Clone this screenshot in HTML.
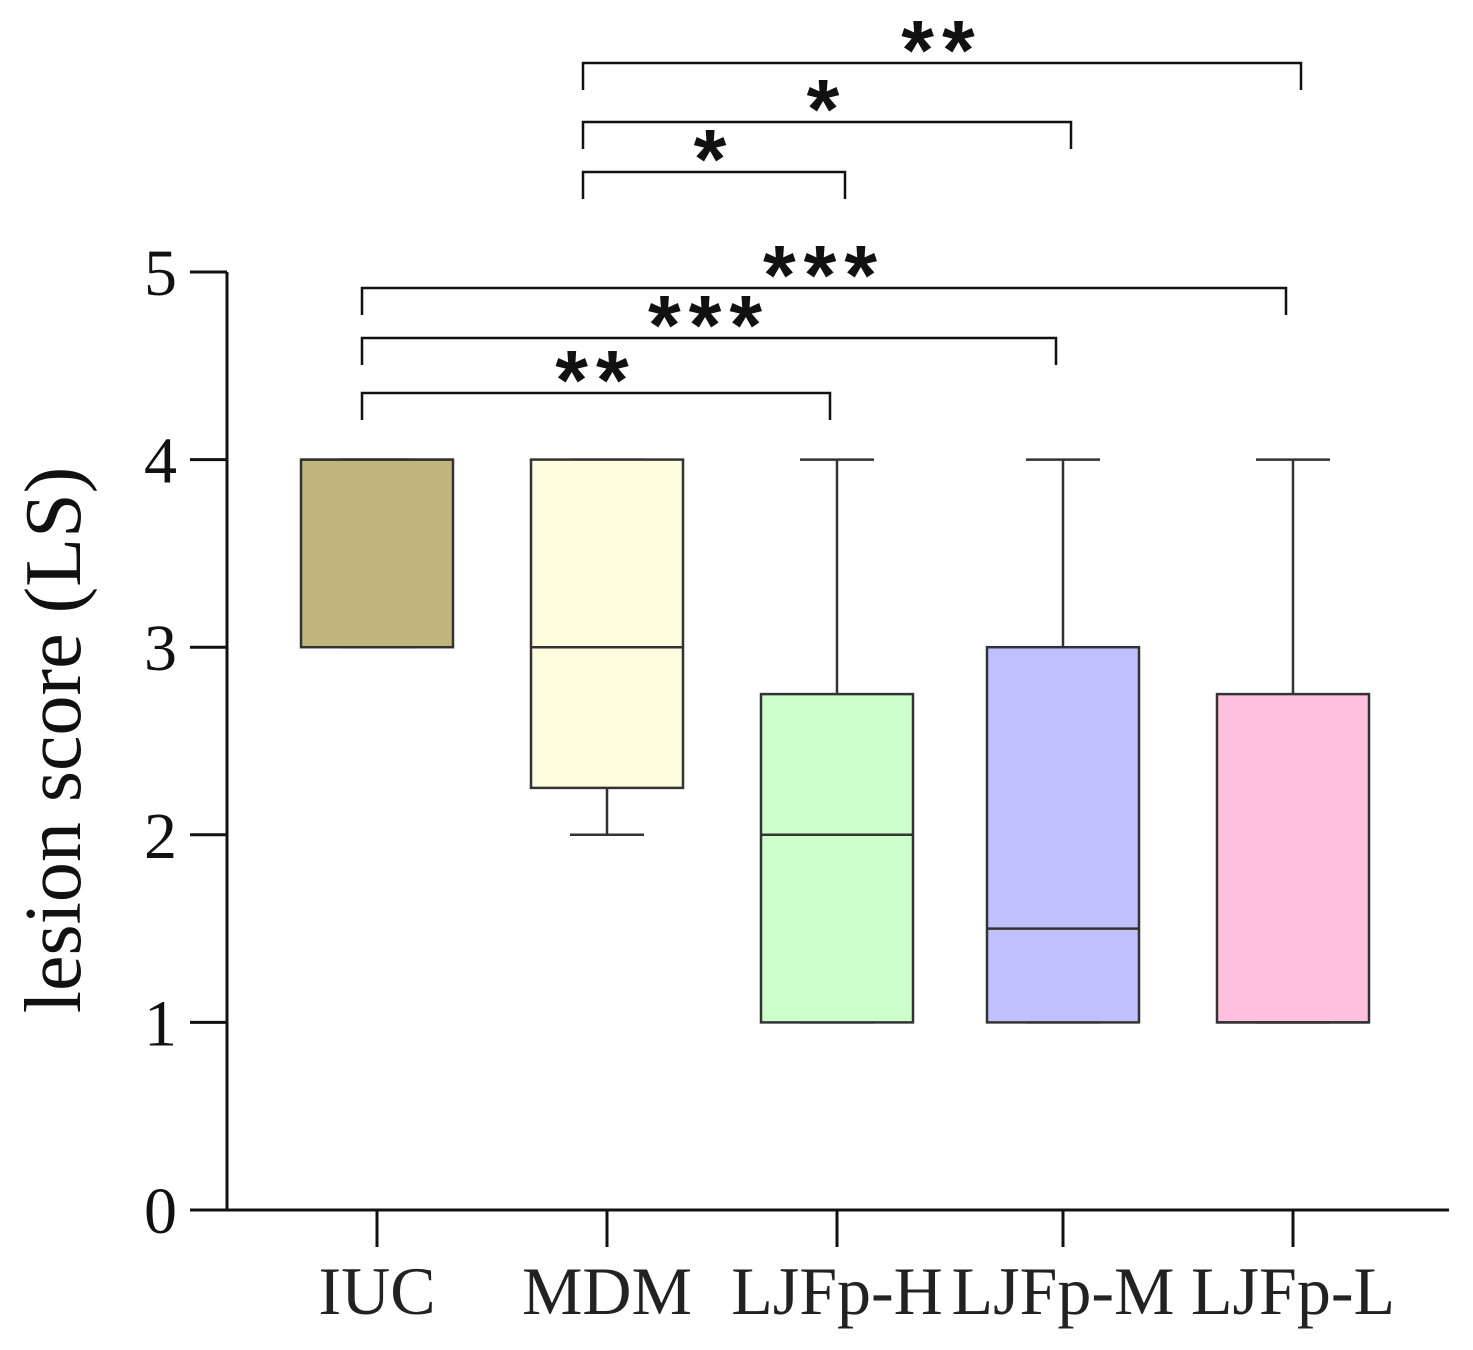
<!DOCTYPE html>
<html><head><meta charset="utf-8"><style>
html,body{margin:0;padding:0;background:#fff;}
svg{display:block;font-family:"Liberation Serif",serif;}
</style></head><body>
<svg id="chart" width="1473" height="1350" viewBox="0 0 1473 1350" xmlns="http://www.w3.org/2000/svg">
<text transform="translate(80,740) rotate(-90)" text-anchor="middle" font-size="80" fill="#111">lesion score (LS)</text>
</svg>
<script>
const categories=["IUC","MDM","LJFp-H","LJFp-M","LJFp-L"];
const mins=[3,2,1,1,1];
const q1s=[3,2.25,1,1,1];
const medians=[4,3,2,1.5,1];
const q3s=[4,4,2.75,3,2.75];
const maxs=[4,4,4,4,4];
const colors=["#c0b57d","#fffde0","#ccffcc","#c0c0ff","#ffc0e0"];
const yTicks=[0,1,2,3,4,5];
const bracketFrom=[0,0,0,1,1,1];
const bracketTo=[2,3,4,2,3,4];
const bracketLabels=["**","***","***","*","*","**"];
const bracketY=[393,338,288,172,122,63];

const svg=document.getElementById('chart');
const NS="http://www.w3.org/2000/svg";
const y0=1210,yTop=272,yMax=5;
const yS=v=>y0-(y0-yTop)*v/yMax;
const xC=[377,607,837,1063,1293];
const xS=i=>xC[i];
const bw=152;
function el(t,a){const e=document.createElementNS(NS,t);for(const k in a)e.setAttribute(k,a[k]);svg.appendChild(e);return e;}
let e;
e=el('line',{x1:227,y1:yTop,x2:227,y2:y0+1,stroke:'#111','stroke-width':3});


e=el('line',{x1:226,y1:y0,x2:1449,y2:y0,stroke:'#111','stroke-width':3});


yTicks.forEach(t=>{
  e=el('line',{x1:190,y1:yS(t),x2:227,y2:yS(t),stroke:'#111','stroke-width':3});
  
  
  e=el('text',{x:177,y:yS(t)+23,'text-anchor':'end','font-size':66,fill:'#111'});
  e.textContent=t;
  
  
});
categories.forEach((c,i)=>{
  const x=xS(i);
  e=el('line',{x1:x,y1:y0,x2:x,y2:y0+37,stroke:'#111','stroke-width':3});
  
  
  e=el('text',{x:x,y:1314,'text-anchor':'middle','font-size':68,fill:'#222'});
  e.textContent=c;
  
  
  e=el('line',{x1:x,y1:yS(maxs[i]),x2:x,y2:yS(q3s[i]),stroke:'#333','stroke-width':2.5});
  
  
  e=el('line',{x1:x,y1:yS(mins[i]),x2:x,y2:yS(q1s[i]),stroke:'#333','stroke-width':2.5});
  
  
  e=el('line',{x1:x-37,y1:yS(maxs[i]),x2:x+37,y2:yS(maxs[i]),stroke:'#333','stroke-width':2.5});
  
  
  e=el('line',{x1:x-37,y1:yS(mins[i]),x2:x+37,y2:yS(mins[i]),stroke:'#333','stroke-width':2.5});
  
  
  e=el('rect',{x:x-bw/2,y:yS(q3s[i]),width:bw,height:yS(q1s[i])-yS(q3s[i]),fill:colors[i],stroke:'#333','stroke-width':2.5});
  
  
  e=el('line',{x1:x-bw/2,y1:yS(medians[i]),x2:x+bw/2,y2:yS(medians[i]),stroke:'#333','stroke-width':2.5});
  
  
});
bracketFrom.forEach((f,k)=>{
  const y=bracketY[k];
  const xa=(f===0?362:583), xb=xS(bracketTo[k])+(f===0?-7:8);
  e=el('path',{d:`M${xa},${y+27} V${y} H${xb} V${y+27}`,fill:'none',stroke:'#111','stroke-width':2.5});
  
  
  e=el('text',{x:(xa+xb)/2,y:y+16,'text-anchor':'middle','font-size':84,'font-weight':'bold','font-family':'Liberation Sans, sans-serif',fill:'#111','letter-spacing':'8'});
  e.textContent=bracketLabels[k];
  
  
});
</script>
</body></html>
